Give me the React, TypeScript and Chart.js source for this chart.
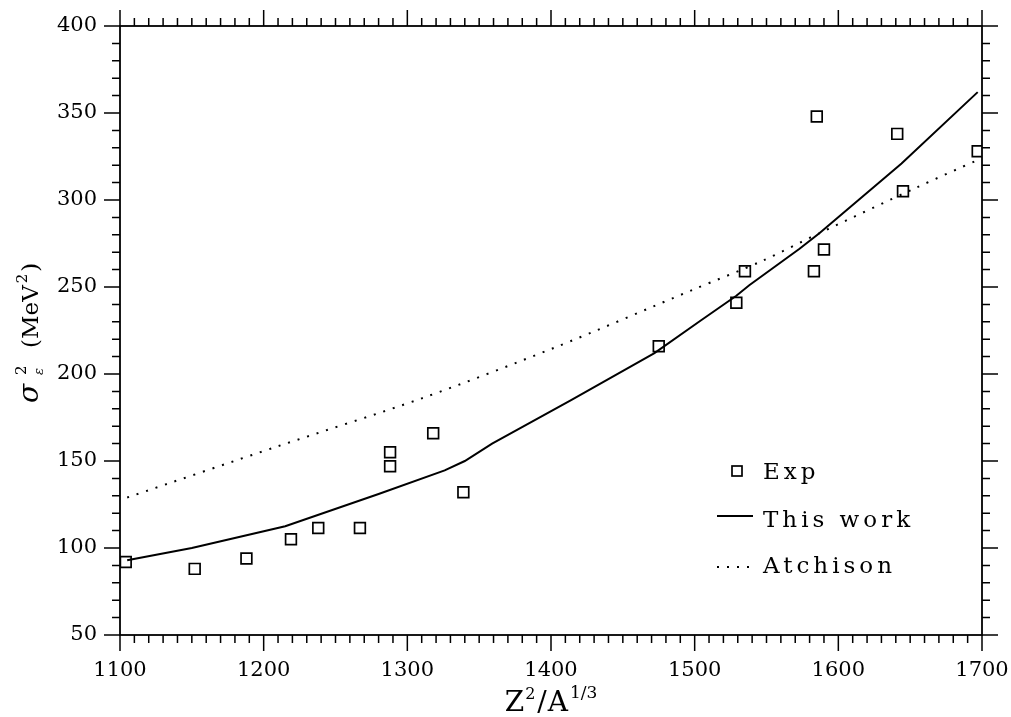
import React, { useEffect, useRef } from 'react';
import { Chart, registerables } from 'chart.js';

Chart.register(...registerables);

// Experimental points
const expX = [1104, 1152, 1188, 1219, 1238, 1267, 1288, 1288, 1318, 1339, 1475, 1529, 1535, 1583, 1590, 1585, 1641, 1645, 1697];
const expY = [92, 88, 94, 105, 111.5, 111.5, 147, 155, 166, 132, 216, 241, 259, 259, 271.5, 348, 338, 305, 328];

// "This work" curve
const workX = [1105, 1150, 1215, 1280, 1326, 1340, 1359, 1414, 1472, 1504, 1529, 1538, 1573, 1587, 1644, 1697];
const workY = [93, 100, 112.5, 131, 144.6, 150, 160, 185, 212, 230.6, 245, 251, 272, 281, 321, 362];

// "Atchison" curve
const atchX = [1105, 1210, 1310, 1402, 1499, 1547, 1587, 1654, 1697];
const atchY = [129, 158.5, 186, 215, 248.5, 265, 281, 307, 323];

// Axis ranges / ticks
const X_MIN = 1100, X_MAX = 1700, X_MAJOR = 100, X_MINOR = 10;
const Y_MIN = 50, Y_MAX = 400, Y_MAJOR = 50, Y_MINOR = 10;

const legendLabels = ['Exp', 'This work', 'Atchison'];

const SERIF = "'DejaVu Serif', 'Liberation Serif', serif";

type Part = { t: string; size: number; dy: number; italic?: boolean; gap?: number };

function drawParts(ctx: CanvasRenderingContext2D, parts: Part[], x0: number, y0: number) {
  let x = x0;
  for (const p of parts) {
    x += p.gap || 0;
    ctx.font = `${p.italic ? 'italic ' : ''}${p.size}px ${SERIF}`;
    ctx.fillText(p.t, x, y0 + p.dy);
    x += ctx.measureText(p.t).width;
  }
}
function measureParts(ctx: CanvasRenderingContext2D, parts: Part[]) {
  let w = 0;
  for (const p of parts) {
    w += p.gap || 0;
    ctx.font = `${p.italic ? 'italic ' : ''}${p.size}px ${SERIF}`;
    w += ctx.measureText(p.t).width;
  }
  return w;
}

const decorPlugin = {
  id: 'decor',
  afterDraw(chart: any) {
    const { ctx, chartArea: a, scales } = chart;
    const xs = scales.x, ys = scales.y;
    ctx.save();
    ctx.strokeStyle = '#000';
    ctx.fillStyle = '#000';
    // frame
    ctx.lineWidth = 1.8;
    ctx.strokeRect(a.left, a.top, a.right - a.left, a.bottom - a.top);
    // ticks
    ctx.beginPath();
    const nx = Math.round((X_MAX - X_MIN) / X_MINOR);
    for (let i = 0; i <= nx; i++) {
      const v = X_MIN + i * X_MINOR;
      const len = (v - X_MIN) % X_MAJOR === 0 ? 16 : 8;
      const px = xs.getPixelForValue(v);
      ctx.moveTo(px, a.bottom); ctx.lineTo(px, a.bottom + len);
      ctx.moveTo(px, a.top); ctx.lineTo(px, a.top - len);
    }
    const ny = Math.round((Y_MAX - Y_MIN) / Y_MINOR);
    for (let i = 0; i <= ny; i++) {
      const v = Y_MIN + i * Y_MINOR;
      const len = (v - Y_MIN) % Y_MAJOR === 0 ? 16 : 8;
      const py = ys.getPixelForValue(v);
      ctx.moveTo(a.left, py); ctx.lineTo(a.left - len, py);
      ctx.moveTo(a.right, py); ctx.lineTo(a.right + len, py);
    }
    ctx.lineWidth = 1.5;
    ctx.stroke();

    // x title
    ctx.textBaseline = 'alphabetic';
    ctx.textAlign = 'left';
    const xParts: Part[] = [
      { t: 'Z', size: 28, dy: 0 },
      { t: '2', size: 16, dy: -12, gap: 1 },
      { t: '/', size: 28, dy: 0, gap: 2 },
      { t: 'A', size: 28, dy: 0, gap: 1 },
      { t: '1/3', size: 17, dy: -13, gap: 2 },
    ];
    const xw = measureParts(ctx, xParts);
    const cx = (a.left + a.right) / 2;
    drawParts(ctx, xParts, cx - xw / 2, 711);

    // y title (rotated)
    ctx.save();
    ctx.translate(38, 403);
    ctx.rotate(-Math.PI / 2);
    ctx.font = `italic 28px ${SERIF}`;
    ctx.fillText('σ', 0, 0);
    ctx.font = `15px ${SERIF}`;
    ctx.fillText('2', 28, -12);
    ctx.font = `italic 13px ${SERIF}`;
    ctx.fillText('ε', 28, 5);
    drawParts(ctx, [
      { t: '(MeV', size: 23, dy: 0 },
      { t: '2', size: 15, dy: -11, gap: 2 },
      { t: ')', size: 23, dy: 0, gap: 2 },
    ], 55, 0);
    ctx.restore();

    // legend
    const ds = chart.data.datasets;
    const tx = a.right - 219;
    const mx0 = a.right - 265, mx1 = a.right - 229;
    const rows = [a.bottom - 156, a.bottom - 108, a.bottom - 62];
    ctx.font = `23px ${SERIF}`;
    (ctx as any).letterSpacing = '4px';
    for (let i = 0; i < legendLabels.length; i++) {
      ctx.fillText(legendLabels[i], tx, rows[i]);
    }
    (ctx as any).letterSpacing = '0px';
    // Exp marker
    ctx.lineWidth = ds[0].pointBorderWidth;
    ctx.strokeRect(a.right - 250, rows[0] - 13, 10, 10);
    // This work line
    ctx.beginPath();
    ctx.lineWidth = ds[1].borderWidth;
    ctx.setLineDash([]);
    ctx.moveTo(mx0, rows[1] - 11); ctx.lineTo(mx1, rows[1] - 11);
    ctx.stroke();
    // Atchison line
    ctx.beginPath();
    ctx.lineWidth = ds[2].borderWidth;
    ctx.setLineDash(ds[2].borderDash);
    ctx.moveTo(mx0, rows[2] - 6); ctx.lineTo(mx1 - 3, rows[2] - 6);
    ctx.stroke();
    ctx.setLineDash([]);
    ctx.restore();
  },
};

export default function App() {
  const ref = useRef<HTMLCanvasElement | null>(null);
  useEffect(() => {
    if (!ref.current) return;
    const chart = new Chart(ref.current, {
      type: 'scatter',
      data: {
        datasets: [
          {
            label: legendLabels[0],
            data: expX.map((x, i) => ({ x, y: expY[i] })),
            showLine: false,
            pointStyle: 'rect',
            pointRadius: 7.6,
            pointBorderWidth: 1.7,
            pointBorderColor: '#000',
            pointBackgroundColor: 'rgba(0,0,0,0)',
            borderColor: '#000',
            backgroundColor: 'rgba(0,0,0,0)',
          },
          {
            label: legendLabels[1],
            data: workX.map((x, i) => ({ x, y: workY[i] })),
            showLine: true,
            pointRadius: 0,
            borderColor: '#000',
            borderWidth: 2,
            tension: 0,
            fill: false,
          },
          {
            label: legendLabels[2],
            data: atchX.map((x, i) => ({ x, y: atchY[i] })),
            showLine: true,
            pointRadius: 0,
            borderColor: '#000',
            borderWidth: 2,
            borderDash: [2, 8],
            tension: 0.3,
            fill: false,
          },
        ] as any,
      },
      options: {
        responsive: false,
        animation: false,
        layout: { padding: { left: 0, right: 29, top: 26, bottom: 0 } },
        plugins: { legend: { display: false }, tooltip: { enabled: false } },
        scales: {
          x: {
            type: 'linear',
            position: 'bottom',
            min: X_MIN,
            max: X_MAX,
            afterFit: (s: any) => {
              s.height = 82;
              s.paddingLeft = 0; s.paddingRight = 0;
              s.paddingTop = 0; s.paddingBottom = 0;
            },
            grid: { display: false },
            border: { display: false },
            ticks: {
              stepSize: X_MAJOR,
              autoSkip: false,
              maxRotation: 0,
              padding: 15,
              color: '#000',
              font: { family: SERIF, size: 21 },
              callback: (v: any) => String(v),
            },
          },
          y: {
            type: 'linear',
            min: Y_MIN,
            max: Y_MAX,
            afterFit: (s: any) => {
              s.width = 120;
              s.paddingLeft = 0; s.paddingRight = 0;
              s.paddingTop = 0; s.paddingBottom = 0;
            },
            grid: { display: false },
            border: { display: false },
            ticks: {
              stepSize: Y_MAJOR,
              autoSkip: false,
              padding: 15,
              color: '#000',
              font: { family: SERIF, size: 21 },
              callback: (v: any) => String(v),
            },
          },
        },
      } as any,
      plugins: [decorPlugin],
    });
    return () => chart.destroy();
  }, []);
  return (
    <div style={{ position: 'fixed', left: 0, top: 0, width: 1011, height: 717, background: '#fff' }}>
      <canvas ref={ref} width={1011} height={717} style={{ display: 'block' }} />
    </div>
  );
}
